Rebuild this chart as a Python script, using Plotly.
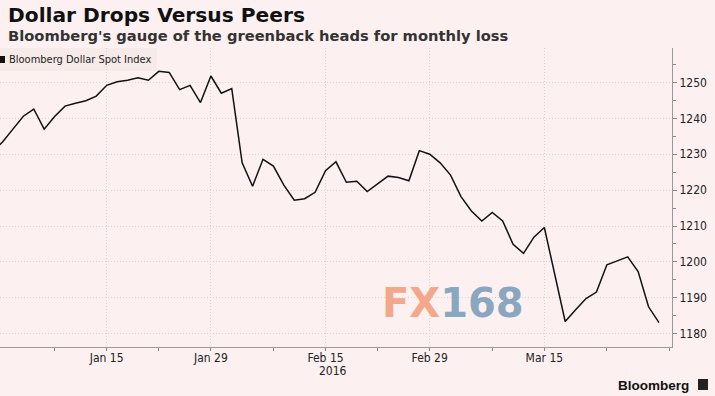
import pandas as pd
import plotly.graph_objects as go

# ---- data ----
dates = pd.bdate_range("2015-12-31", "2016-03-30")
values = [1230.5, 1233.4, 1237.0, 1240.6, 1242.6, 1237.0, 1240.5, 1243.4, 1244.2, 1244.9,
          1246.2, 1249.2, 1250.2, 1250.6, 1251.3, 1250.6, 1253.1, 1252.8, 1248.0, 1249.2,
          1244.4, 1251.8, 1247.0, 1248.3, 1227.6, 1221.1, 1228.6, 1226.7, 1221.4, 1217.2,
          1217.6, 1219.4, 1225.4, 1227.9, 1222.2, 1222.5, 1219.6, 1221.8, 1223.9, 1223.5,
          1222.6, 1231.0, 1230.0, 1227.6, 1224.2, 1218.2, 1214.2, 1211.4, 1213.8, 1211.4,
          1204.9, 1202.4, 1206.9, 1209.6, 1196.5, 1183.4, 1186.7, 1189.8, 1191.6, 1199.2,
          1200.3, 1201.4, 1197.3, 1187.5, 1183.1]
series_name = "Bloomberg Dollar Spot Index"
x_tick_vals = ["2016-01-15", "2016-01-29", "2016-02-15", "2016-02-29", "2016-03-15"]
x_tick_text = ["Jan 15", "Jan 29", "Feb 15", "Feb 29", "Mar 15"]
x_minor_vals = ["2016-01-08", "2016-01-22", "2016-02-08", "2016-02-22", "2016-03-08",
                "2016-03-23", "2016-03-31"]
y_tick_vals = [1180, 1190, 1200, 1210, 1220, 1230, 1240, 1250]
title = "Dollar Drops Versus Peers"
subtitle = "Bloomberg's gauge of the greenback heads for monthly loss"
year_label = "2016"

# ---- layout helpers ----
W, H = 715, 396
L, R, T, B = 0, 43, 48, 49
PW, PH = W - L - R, H - T - B
def px(x):
    return (x - L) / PW
def py(y):
    return (H - B - y) / PH

BG = "#fcf1f0"
GRID = "#e0d4c6"
TICKFONT = dict(family="DejaVu Sans Condensed, DejaVu Sans, sans-serif", size=12, color="#222222")

fig = go.Figure()
fig.add_trace(go.Scatter(x=dates, y=values, mode="lines", name=series_name,
                         line=dict(color="#111111", width=1.5), showlegend=False))

fig.update_layout(
    width=W, height=H, autosize=False,
    margin=dict(l=L, r=R, t=T, b=B, pad=0),
    paper_bgcolor=BG, plot_bgcolor=BG,
    xaxis=dict(
        type="date",
        range=["2015-12-31 18:15", "2016-03-31 06:00"],
        rangebreaks=[dict(bounds=["sat", "mon"])],
        tickvals=x_tick_vals, ticktext=x_tick_text,
        tickfont=TICKFONT,
        ticks="outside", ticklen=3, tickcolor="#888888",
        ticklabelstandoff=-3,
        showline=True, linecolor="#9a9a9a", linewidth=1,
        showgrid=True, gridcolor=GRID, griddash="1px,2px", gridwidth=1,
        zeroline=False,
        minor=dict(tickvals=x_minor_vals, ticks="outside", ticklen=3,
                   tickcolor="#888888", showgrid=False),
    ),
    yaxis=dict(
        side="right",
        range=[1176.3, 1259.6],
        tickvals=y_tick_vals,
        tickfont=TICKFONT,
        ticks="outside", ticklen=4, tickcolor="#888888",
        showline=True, linecolor="#9a9a9a", linewidth=1,
        showgrid=True, gridcolor=GRID, griddash="1px,2px", gridwidth=1,
        zeroline=False,
        minor=dict(dtick=5, tick0=1180, ticks="outside", ticklen=3,
                   tickcolor="#888888", showgrid=False),
    ),
)

shapes = [
    # legend box background
    dict(type="rect", xref="paper", yref="paper", x0=px(0), x1=px(157), y0=py(71), y1=py(48),
         fillcolor="rgba(120,90,80,0.035)", line=dict(width=0), layer="below"),
    # legend marker
    dict(type="rect", xref="paper", yref="paper", x0=px(0), x1=px(5), y0=py(63), y1=py(56),
         fillcolor="#111111", line=dict(width=0)),
    # Bloomberg icon
    dict(type="rect", xref="paper", yref="paper", x0=px(698), x1=px(708), y0=py(390), y1=py(379),
         fillcolor="#222222", line=dict(width=0)),
]
fig.update_layout(shapes=shapes)

ann = [
    dict(text="<b>%s</b>" % title, x=px(6), y=py(15), xanchor="left", yanchor="middle",
         font=dict(family="DejaVu Sans, sans-serif", size=20.2, color="#111111")),
    dict(text="<b>%s</b>" % subtitle, x=px(6), y=py(35), xanchor="left", yanchor="middle",
         font=dict(family="DejaVu Sans, sans-serif", size=14.7, color="#333333")),
    dict(text=series_name, x=px(7), y=py(59.5), xanchor="left", yanchor="middle",
         font=dict(family="DejaVu Sans Condensed, DejaVu Sans, sans-serif", size=11, color="#222222")),
    dict(text=year_label, x=px(332.5), y=py(371), xanchor="center", yanchor="middle",
         font=TICKFONT),
    dict(text="<span style='color:#f3a88c'>FX</span><span style='color:#8ba7c0'>168</span>",
         x=px(452.5), y=py(303), xanchor="center", yanchor="middle",
         font=dict(family="DejaVu Sans, sans-serif", size=40, weight=700)),
    dict(text="<b>Bloomberg</b>", x=px(691), y=py(385), xanchor="right", yanchor="middle",
         font=dict(family="Liberation Sans, Arial, sans-serif", size=13.5, color="#111111")),
]
for a in ann:
    a.update(xref="paper", yref="paper", showarrow=False)
fig.update_layout(annotations=ann)

fig.write_html("out.html", config={"displayModeBar": False},
               post_script="document.body.style.margin='0';document.body.style.background='%s';" % BG)
